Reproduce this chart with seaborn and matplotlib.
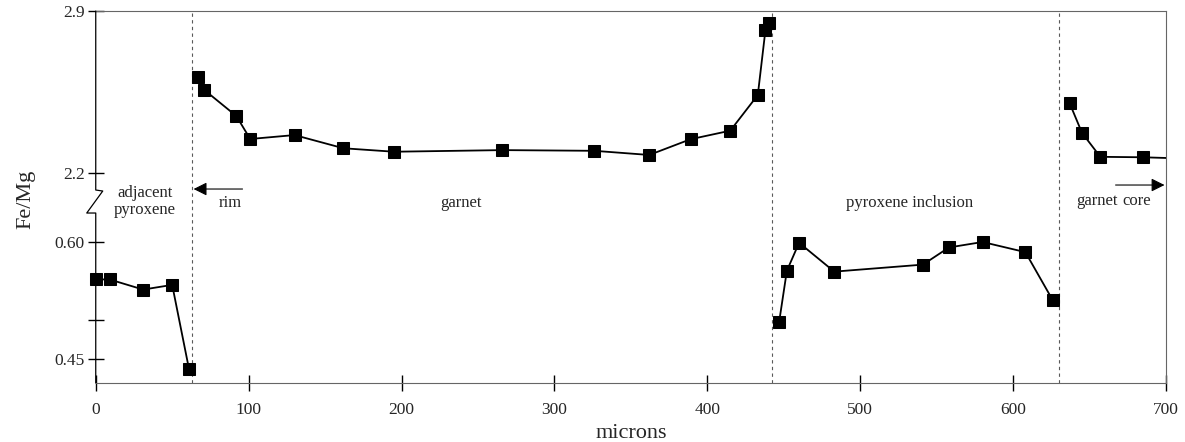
import numpy as np
import pandas as pd
import seaborn as sns
import matplotlib.pyplot as plt

# Fe/Mg traverse (x in microns)
adj_x = [0, 9, 31, 50, 61]
adj_y = [0.552, 0.552, 0.539, 0.545, 0.437]
rim_x = [67, 71, 92, 101, 130, 162, 195, 266, 326, 362, 389, 415, 433, 438, 440]
rim_y = [2.616, 2.559, 2.446, 2.347, 2.364, 2.307, 2.292, 2.299, 2.296, 2.278,
         2.346, 2.383, 2.537, 2.818, 2.847]
inc_x = [447, 452, 460, 483, 541, 558, 580, 608, 626]
inc_y = [0.498, 0.563, 0.599, 0.562, 0.571, 0.593, 0.600, 0.587, 0.525]
core_x = [637, 645, 657, 685, 715]
core_y = [2.501, 2.374, 2.270, 2.268, 2.262]

boundaries = [63, 442.5, 630]
yticks = [0.45, 0.50, 0.60, 2.2, 2.9]
ytick_labels = ["0.45", "", "0.60", "2.2", "2.9"]
xticks = [0, 100, 200, 300, 400, 500, 600, 700]

segments = [("adjacent pyroxene", adj_x, adj_y), ("rim", rim_x, rim_y),
            ("inclusion", inc_x, inc_y), ("core", core_x, core_y)]
df = pd.concat([pd.DataFrame({"microns": x, "FeMg": y, "segment": name})
                for name, x, y in segments], ignore_index=True)

sns.set_style("ticks")
plt.rcParams["font.family"] = ["Liberation Serif", "DejaVu Serif"]

# broken y axis as a piecewise linear scale
v_pts = np.array([-10, 0.45, 0.60, 2.2, 2.9, 10])
p_pts = np.array([24 - 10.45 * 780, 24, 141, 210, 372, 372 + 7.1 * 231.4])


def fwd(v):
    return np.interp(v, v_pts, p_pts)


def inv(p):
    return np.interp(p, p_pts, v_pts)


fig, ax = plt.subplots(figsize=(11.85, 4.42), dpi=100)
fig.subplots_adjust(left=0.0808, right=0.984, bottom=0.1335, top=0.975)

ax.set_yscale("function", functions=(fwd, inv))

for xb in boundaries:
    ax.axvline(xb, color="0.35", lw=0.8, ls=(0, (3, 3)), zorder=1)

sns.lineplot(data=df, x="microns", y="FeMg", units="segment", estimator=None,
             sort=False, color="black", lw=1.3, marker="s", markersize=8,
             markeredgecolor="black", ax=ax, zorder=3)
# first marker sits on the axis: don't clip it
for ln in ax.lines:
    xd = np.asarray(ln.get_xdata(), dtype=float)
    if xd.size > 2 and xd.min() == 0:
        ln.set_clip_on(False)

ax.set_xlim(0, 700)
ax.set_ylim(0.4192, 2.9)
ax.set_xticks(xticks)
ax.set_yticks(yticks, labels=ytick_labels)
ax.tick_params(direction="inout", length=12, width=1, labelsize=12.5, color="black")
ax.tick_params(axis="x", pad=8)
ax.tick_params(axis="y", pad=2)

for s in ["top", "right", "bottom"]:
    ax.spines[s].set_color("0.4")
    ax.spines[s].set_linewidth(0.8)
ax.spines["left"].set_visible(False)

# left spine with zigzag break
f = lambda py: (383 - py) / 372
w = 1070.3
ax.plot([0, 0, 7 / w, -9 / w, 0, 0], [1, f(190), f(191), f(213), f(213), 0],
        transform=ax.transAxes, color="black", lw=0.9, clip_on=False, zorder=4)

ax.set_xlabel("microns", fontsize=16, labelpad=4)
ax.set_ylabel("")
fig.text(0.022, 0.55, "Fe/Mg", rotation=90, fontsize=16, ha="center", va="center")

tr = ax.get_xaxis_transform()
ax.text(32, f(193), "adjacent", transform=tr, ha="center", va="center", fontsize=12)
ax.text(32, f(210), "pyroxene", transform=tr, ha="center", va="center", fontsize=12)
ax.text(88, f(203), "rim", transform=tr, ha="center", va="center", fontsize=12)
ax.text(239, f(203), "garnet", transform=tr, ha="center", va="center", fontsize=12)
ax.text(532, f(203), "pyroxene inclusion", transform=tr, ha="center", va="center", fontsize=12)
ax.text(655, f(201), "garnet", transform=tr, ha="center", va="center", fontsize=12)
ax.text(681, f(201), "core", transform=tr, ha="center", va="center", fontsize=12)

arrow = dict(arrowstyle="-|>", mutation_scale=20, lw=0.8, color="black",
             shrinkA=0, shrinkB=0)
ax.annotate("", xy=(64, f(189)), xytext=(96, f(189)), xycoords=tr, textcoords=tr,
            arrowprops=arrow)
ax.annotate("", xy=(699, f(185)), xytext=(667, f(185)), xycoords=tr, textcoords=tr,
            arrowprops=arrow, annotation_clip=False)

plt.savefig("out.png", dpi=100)
plt.close()
